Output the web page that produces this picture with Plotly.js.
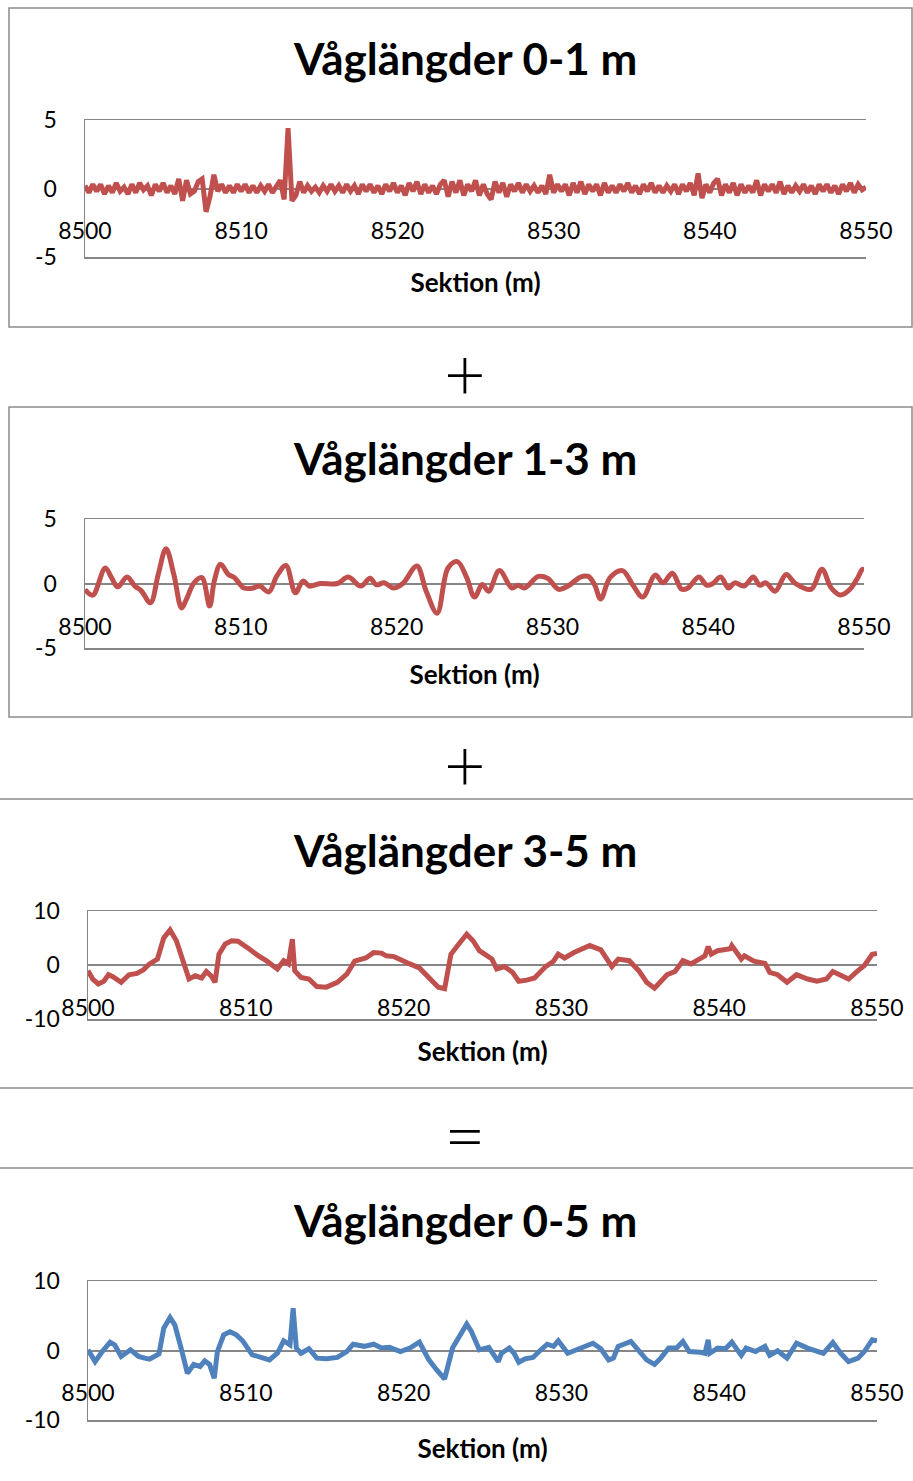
<!DOCTYPE html>
<html>
<head>
<meta charset="utf-8">
<script src="https://cdn.plot.ly/plotly-3.0.1.min.js"></script>
<style>html,body{margin:0;padding:0;background:#fff;}#chart{width:913px;height:1481px;}</style>
</head>
<body>
<div id="chart"></div>
<script>
// ---------- data ----------
const xTicks = [8500, 8510, 8520, 8530, 8540, 8550];
const titles = ["Våglängder 0-1 m", "Våglängder 1-3 m", "Våglängder 3-5 m", "Våglängder 0-5 m"];
const xTitle = "Sektion (m)";
const symbols = ["+", "+", "="];

// Våglängder 0-1 m : sampled every 0.25 m from 8500
const y1Start = 8500;
const y1Step = 0.25;
const y1 = [
 0.2,-0.3,0.3,-0.2,  0.3,-0.4,0.2,-0.3,  0.4,-0.2,0.1,-0.4,  0.3,-0.3,0.4,-0.1,
 0.2,-0.5,0.3,-0.2,  0.4,-0.3,0.2,-0.4,  0.7,-0.9,0.6,-0.4,  -0.2,0.5,0.7,-1.7,
 -0.6,1.0,-0.2,0.3,  -0.3,0.2,-0.3,0.3,  -0.2,0.3,-0.3,0.2,  -0.3,0.2,-0.2,0.3,
 -0.3,0.2,0.6,-0.8,  4.4,-0.9,-0.5,0.5,  -0.3,0.2,-0.2,0.1,  -0.3,0.2,-0.2,0.3,
 -0.2,0.2,-0.3,0.3,  -0.2,0.2,-0.4,0.3,  -0.2,0.3,-0.3,0.2,  -0.4,0.3,-0.2,0.4,
 -0.3,0.2,-0.5,0.4,  -0.2,0.5,-0.4,0.3,  -0.3,0.2,-0.4,0.3,  0.6,-0.6,0.5,-0.3,
 0.6,-0.5,0.3,-0.2,  0.6,-0.5,0.3,-0.4,  -0.8,0.5,-0.3,0.4,  -0.6,0.3,-0.2,0.4,
 -0.3,0.3,-0.2,0.2,  -0.3,0.2,-0.4,1.0,  -0.3,0.3,-0.2,0.3,  -0.5,0.4,-0.3,0.5,
 -0.4,0.3,-0.2,0.3,  -0.5,0.4,-0.3,0.2,  -0.3,0.3,-0.2,0.4,  -0.3,0.2,-0.4,0.3,
 -0.2,0.4,-0.3,0.2,  -0.3,0.2,-0.2,0.3,  -0.4,0.3,-0.2,0.4,  -0.5,1.1,-0.7,0.3,
 -0.3,0.4,0.7,-0.5,  0.3,-0.3,0.4,-0.5,  0.3,-0.3,0.2,-0.3,  0.6,-0.5,0.3,-0.2,
 0.3,-0.3,0.5,-0.4,  0.2,-0.3,0.2,-0.2,  0.3,-0.3,0.2,-0.4,  0.3,-0.2,0.3,-0.3,
 0.2,-0.4,0.3,-0.2,  0.4,-0.3,0.3,-0.1,  0.1
];

// Våglängder 1-3 m
const x2 = [8500,8500.5,8501.3,8501.7,8502.1,8502.7,8503.2,8503.6,8504.2,8504.7,8505.2,8505.7,8506.2,8506.5,8507,8507.5,8508,8508.3,8508.7,8509.2,8509.6,8510.2,8510.8,8511.2,8511.8,8512.3,8512.9,8513.5,8514,8514.4,8515.1,8516.2,8516.9,8517.7,8518.3,8518.7,8519.2,8519.8,8520.4,8521.3,8521.9,8522.6,8523.3,8523.9,8524.5,8525.0,8525.5,8525.9,8526.6,8527.4,8527.8,8528.2,8529.1,8529.7,8530.4,8531,8531.8,8532.3,8532.7,8533.1,8533.7,8534.5,8535.2,8535.8,8536.6,8537.1,8537.7,8538.3,8538.7,8539.4,8539.9,8540.3,8540.8,8541.3,8541.7,8542.3,8542.9,8543.3,8543.7,8544.3,8545,8545.6,8546.6,8547.3,8547.9,8548.5,8549.1,8549.6,8549.9,8550];
const y2 = [-0.47,-0.9,1.2,0.45,-0.26,0.5,-0.2,-0.55,-1.5,0.7,2.7,0.7,-1.9,-1.25,0.05,0.45,-1.75,0.2,1.5,0.7,0.45,-0.35,-0.35,-0.2,-0.65,0.55,1.4,-0.72,0.2,-0.2,0,0,0.5,-0.2,0.4,-0.1,0.05,-0.35,0,1.35,-0.6,-2.3,1.2,1.7,0.45,-1.05,-0.08,-0.6,1.0,-0.35,-0.13,-0.35,0.55,0.4,-0.45,-0.2,0.5,0.55,-0.08,-1.2,0.45,1.0,-0.2,-1.05,0.65,0.05,0.8,-0.45,-0.35,0.5,-0.13,0,0.5,-0.35,0.05,-0.2,0.5,-0.13,0.05,-0.6,0.7,0,-0.45,1.1,-0.35,-0.9,-0.45,0.45,1.1,0.95];

// Våglängder 3-5 m
const x3 = [8500,8500.3,8500.65,8501,8501.3,8501.6,8502.1,8502.6,8503.1,8503.5,8503.9,8504.4,8504.8,8505.2,8505.6,8506.0,8506.4,8506.8,8507.2,8507.5,8507.8,8508.05,8508.3,8508.7,8509.1,8509.5,8509.8,8510.2,8510.8,8511.3,8512,8512.4,8512.7,8512.95,8513.1,8513.5,8514,8514.5,8515.1,8515.8,8516.4,8516.9,8517.6,8518.1,8518.6,8518.9,8519.4,8519.9,8520.4,8521.0,8521.6,8522.2,8522.6,8523.0,8523.5,8524,8524.4,8524.8,8525.3,8525.6,8525.9,8526.4,8526.9,8527.3,8527.8,8528.3,8529,8529.5,8529.8,8530.2,8530.8,8531.3,8531.8,8532.5,8532.9,8533.2,8533.6,8534.3,8534.9,8535.4,8535.9,8536.3,8536.7,8537.2,8537.7,8538.2,8538.7,8539.1,8539.3,8539.5,8539.9,8540.7,8540.8,8541.4,8541.6,8542.2,8542.9,8543.2,8543.7,8544.3,8544.9,8545.6,8546.2,8546.8,8547.2,8547.7,8548.2,8548.8,8549.2,8549.7,8550];
const y3 = [-1.05,-2.6,-3.5,-3.0,-1.8,-2.2,-3.2,-1.8,-1.55,-0.9,0.2,1.1,5.0,6.5,4.5,0.8,-2.6,-2.0,-2.4,-1.2,-2.0,-3.2,2.0,3.9,4.5,4.4,3.9,3.0,1.7,0.8,-0.75,0.8,0.2,4.8,-1.05,-2.3,-2.6,-4.0,-4.1,-3.2,-1.7,0.7,1.3,2.3,2.2,1.7,1.55,0.8,0.2,-0.55,-2.3,-4.1,-4.4,2.0,3.9,5.7,4.5,2.65,1.7,1.1,-0.75,-0.3,-1.35,-3.0,-2.8,-2.4,-0.3,0.7,2.0,1.3,2.3,3.0,3.6,2.8,0.8,-0.3,1.1,0.8,-1.05,-3.2,-4.3,-3.2,-1.8,-1.2,0.8,0.2,1.1,1.7,3.4,2.0,2.65,3.0,3.6,1.1,1.7,0.7,0.3,-1.35,-1.8,-3.2,-1.8,-2.6,-3.0,-2.6,-1.2,-1.8,-2.6,-1.05,-0.1,2.0,2.15];

// Våglängder 0-5 m
const x4 = [8500,8500.45,8500.9,8501.4,8501.7,8502.1,8502.7,8503.2,8503.6,8503.9,8504.5,8504.8,8505.2,8505.5,8505.9,8506.3,8506.7,8507.1,8507.4,8507.7,8508,8508.2,8508.6,8509,8509.4,8509.8,8510.4,8511,8511.5,8512,8512.4,8512.8,8513.0,8513.2,8513.5,8514,8514.5,8515.1,8515.8,8516.4,8516.8,8517.5,8518.1,8518.6,8519.1,8519.8,8520.4,8521,8521.6,8522.1,8522.6,8523.1,8523.5,8524,8524.3,8524.8,8525.4,8525.7,8526,8526.2,8526.7,8527,8527.3,8527.7,8528.2,8528.7,8529.1,8529.5,8529.8,8530.4,8530.9,8531.4,8532,8532.5,8533,8533.3,8533.6,8534.4,8534.9,8535.4,8535.9,8536.3,8536.8,8537.3,8537.7,8538.1,8538.8,8539.1,8539.3,8539.4,8539.9,8540.4,8540.8,8541.4,8541.7,8542.3,8542.9,8543.2,8543.7,8544.3,8544.9,8545.6,8546.6,8547.2,8547.7,8548.2,8548.8,8549.2,8549.7,8550];
const y4 = [0.1,-1.6,-0.15,1.2,0.8,-0.85,0.1,-0.85,-1.1,-1.25,-0.5,3.2,4.75,3.7,0.35,-3.3,-2.0,-2.3,-1.5,-2.0,-4.0,-0.15,2.25,2.7,2.25,1.4,-0.6,-1.1,-1.35,-0.4,1.4,0.8,6.1,0.35,-0.4,0.25,-1.1,-1.2,-1.0,-0.15,0.9,0.6,0.9,0.35,0.45,-0.15,0.35,1.2,-1.35,-2.8,-4.1,0.35,2.0,3.8,2.7,0.1,0.45,-0.6,-1.6,-0.4,0.35,-0.4,-1.7,-1.2,-1.0,0.1,0.9,0.6,1.4,-0.4,0.1,0.6,1.05,0.25,-1.35,-1.1,0.6,1.3,-0.15,-1.35,-2.0,-1.1,0.35,0.35,1.3,-0.15,-0.25,-0.4,1.55,-0.4,0.35,0.25,1.2,-0.7,0.35,-0.15,0.6,-0.7,-0.05,-1.1,1.05,0.35,-0.4,1.15,-0.4,-1.6,-1.1,-0.15,1.55,1.4];

const yTicksSmall = [-5, 0, 5];
const yTextSmall = ["-5", "0", "5"];
const yTicksLarge = [-10, 0, 10];
const yTextLarge = ["-10", "0", "10"];

// ---------- styling / layout ----------
const W = 913, H = 1481;
const px = v => v / W;
const py = v => 1 - v / H;
const RED = '#C0504D', BLUE = '#4F81BD', GRID = '#868686';
const FONT = 'Lato, "Open Sans", sans-serif';

const panels = [
  {xd:[85,866], yd:[120,257], yr:[-5,5], yt:yTicksSmall, ytt:yTextSmall, lab:15, tst:31, title:58},
  {xd:[85,864], yd:[519,648], yr:[-5,5], yt:yTicksSmall, ytt:yTextSmall, lab:10, tst:27, title:458},
  {xd:[88,877], yd:[911,1019], yr:[-10,10], yt:yTicksLarge, ytt:yTextLarge, lab:0, tst:23, title:850},
  {xd:[88,877], yd:[1281,1420], yr:[-10,10], yt:yTicksLarge, ytt:yTextLarge, lab:16, tst:35, title:1220}
];

const layout = {
  width: W, height: H,
  margin: {l:0, r:0, t:0, b:0},
  paper_bgcolor: '#ffffff', plot_bgcolor: 'rgba(0,0,0,0)',
  showlegend: false,
  font: {family: FONT, color: '#000'},
  annotations: [], shapes: []
};

panels.forEach((p, i) => {
  const n = i === 0 ? '' : String(i + 1);
  layout['xaxis' + n] = {
    domain: [px(p.xd[0]), px(p.xd[1])],
    anchor: 'y' + n,
    range: [8500, 8550],
    tickmode: 'array', tickvals: xTicks,
    showgrid: false, zeroline: false,
    showline: true, mirror: true, linecolor: GRID, linewidth: 1.5,
    ticks: '',
    ticklabelposition: 'inside', ticklabeloverflow: 'allow',
    ticklabelstandoff: p.lab,
    tickfont: {family: FONT, size: 23, color: '#000'},
    title: {text: xTitle, font: {family: FONT, size: 26, color: '#000', weight: 'bold'}, standoff: p.tst},
    automargin: false, fixedrange: true
  };
  layout['yaxis' + n] = {
    domain: [py(p.yd[1]), py(p.yd[0])],
    anchor: 'x' + n,
    range: p.yr,
    tickmode: 'array', tickvals: p.yt, ticktext: p.ytt,
    showgrid: true, gridcolor: GRID, gridwidth: 1.5,
    zeroline: true, zerolinecolor: GRID, zerolinewidth: 2,
    showline: true, linecolor: GRID, linewidth: 1.5,
    ticks: '', ticklabelstandoff: 22,
    tickfont: {family: FONT, size: 23, color: '#000'},
    automargin: false, fixedrange: true
  };
  layout.annotations.push({
    text: titles[i], xref: 'paper', yref: 'paper',
    x: px(465), y: py(p.title), xanchor: 'center', yanchor: 'middle',
    showarrow: false, font: {family: FONT, size: 44, color: '#000', weight: 'bold'}
  });
});

// symbols between panels
[[372, 0], [763, 1], [1134, 2]].forEach(([yy, k]) => {
  layout.annotations.push({
    text: symbols[k], xref: 'paper', yref: 'paper',
    x: px(465), y: py(yy), xanchor: 'center', yanchor: 'middle',
    showarrow: false, font: {family: FONT, size: 72, color: '#000', weight: 300}
  });
});

// panel frames
const frame = (x0, y0, x1, y1) => ({
  type: 'rect', xref: 'paper', yref: 'paper',
  x0: px(x0), x1: px(x1), y0: py(y1), y1: py(y0),
  line: {color: '#8c8c8c', width: 1.5}, fillcolor: 'rgba(0,0,0,0)', layer: 'below'
});
layout.shapes.push(frame(9, 8, 912, 327));
layout.shapes.push(frame(9, 407, 912, 717));
layout.shapes.push(frame(-5, 799, 920, 1088));
layout.shapes.push(frame(-5, 1168, 920, 1500));

const traces = [
  {type: 'scatter', mode: 'lines', x0: y1Start, dx: y1Step, y: y1, xaxis: 'x', yaxis: 'y',
   line: {color: RED, width: 5}, hoverinfo: 'skip'},
  {type: 'scatter', mode: 'lines', x: x2, y: y2, xaxis: 'x2', yaxis: 'y2',
   line: {color: RED, width: 5, shape: 'spline', smoothing: 1}, hoverinfo: 'skip'},
  {type: 'scatter', mode: 'lines', x: x3, y: y3, xaxis: 'x3', yaxis: 'y3',
   line: {color: RED, width: 5}, hoverinfo: 'skip'},
  {type: 'scatter', mode: 'lines', x: x4, y: y4, xaxis: 'x4', yaxis: 'y4',
   line: {color: BLUE, width: 5}, hoverinfo: 'skip'}
];

Plotly.newPlot('chart', traces, layout, {displayModeBar: false, staticPlot: true});
</script>
</body>
</html>
